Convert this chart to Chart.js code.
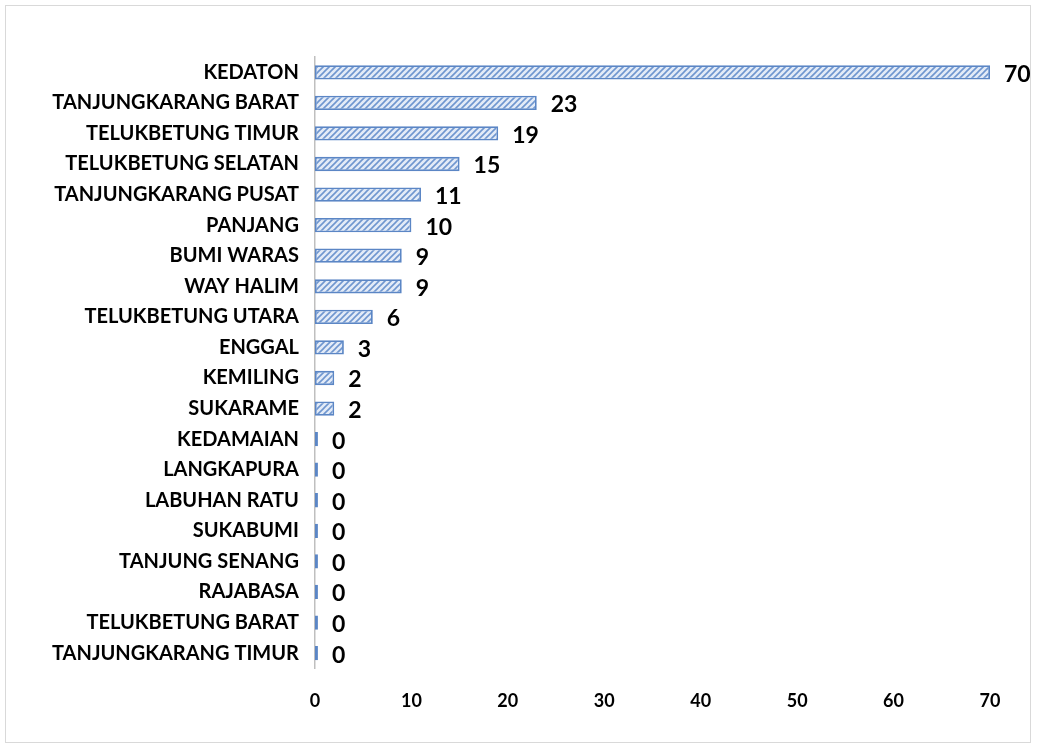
<!DOCTYPE html>
<html>
<head>
<meta charset="utf-8">
<script src="https://cdn.jsdelivr.net/npm/chart.js@4.4.1/dist/chart.umd.min.js"></script>
<style>
  html, body { margin: 0; padding: 0; background: #fff; }
  #wrap {
    position: absolute; left: 5px; top: 5px;
    width: 1026px; height: 738px;
    border: 1px solid #d9d9d9; box-sizing: border-box;
  }
  canvas { display: block; }
</style>
</head>
<body>
<div id="wrap"><canvas id="barChart"></canvas></div>
<script>
// categories, top to bottom
const kecamatan = [
    'KEDATON', 'TANJUNGKARANG BARAT', 'TELUKBETUNG TIMUR', 'TELUKBETUNG SELATAN',
    'TANJUNGKARANG PUSAT', 'PANJANG', 'BUMI WARAS', 'WAY HALIM', 'TELUKBETUNG UTARA',
    'ENGGAL', 'KEMILING', 'SUKARAME', 'KEDAMAIAN', 'LANGKAPURA', 'LABUHAN RATU',
    'SUKABUMI', 'TANJUNG SENANG', 'RAJABASA', 'TELUKBETUNG BARAT', 'TANJUNGKARANG TIMUR'
];
const jumlah = [70, 23, 19, 15, 11, 10, 9, 9, 6, 3, 2, 2, 0, 0, 0, 0, 0, 0, 0, 0];
const xTicks = [0, 10, 20, 30, 40, 50, 60, 70];

// light blue fill with diagonal stripes
function makeHatch() {
    const c = document.createElement('canvas');
    c.width = 6; c.height = 6;
    const g = c.getContext('2d');
    g.fillStyle = '#e3ebf7';
    g.fillRect(0, 0, 6, 6);
    g.strokeStyle = '#6f96cf';
    g.lineWidth = 1.6;
    g.beginPath();
    g.moveTo(0, 6); g.lineTo(6, 0);
    g.moveTo(-3, 3); g.lineTo(3, -3);
    g.moveTo(3, 9); g.lineTo(9, 3);
    g.stroke();
    return g.createPattern(c, 'repeat');
}

// value labels at the end of each bar
const valueLabels = {
    id: 'valueLabels',
    afterDatasetsDraw(chart) {
        const ctx = chart.ctx;
        const meta = chart.getDatasetMeta(0);
        ctx.save();
        ctx.font = 'bold 23px Lato';
        ctx.fillStyle = '#000';
        ctx.textAlign = 'left';
        ctx.textBaseline = 'middle';
        meta.data.forEach((bar, i) => {
            ctx.fillText(String(jumlah[i]), bar.x + 14, bar.y + 2);
        });
        ctx.restore();
    }
};

const canvas = document.getElementById('barChart');
canvas.width = 1024; canvas.height = 736;

const ctx = canvas.getContext('2d');
const barChart = new Chart(ctx, {
    type: 'bar',
    data: {
        labels: kecamatan,
        datasets: [{
            data: jumlah,
            backgroundColor: makeHatch(),
            borderColor: '#5b86c5',
            borderWidth: 1.8,
            borderSkipped: false,
            minBarLength: 3,
            barPercentage: 0.85,
            categoryPercentage: 0.55
        }]
    },
    options: {
        indexAxis: 'y',
        responsive: false,
        animation: false,
        layout: { padding: { left: 30, right: 40, top: 51, bottom: 8 } },
        scales: {
            x: {
                min: 0,
                max: 70,
                afterBuildTicks(axis) { axis.ticks = xTicks.map(v => ({ value: v })); },
                grid: { display: false, drawTicks: false },
                border: { display: false },
                ticks: {
                    padding: 22,
                    color: '#000',
                    font: { family: 'Lato', size: 18, weight: 'bold' }
                }
            },
            y: {
                grid: { display: false, drawTicks: false },
                border: { display: true, color: '#bfbfbf', width: 1.5 },
                ticks: {
                    padding: 16,
                    color: '#000',
                    autoSkip: false,
                    font: { family: 'Lato', size: 20, weight: 'bold' }
                }
            }
        },
        plugins: {
            legend: { display: false },
            tooltip: { enabled: false }
        }
    },
    plugins: [valueLabels]
});
</script>
</body>
</html>
